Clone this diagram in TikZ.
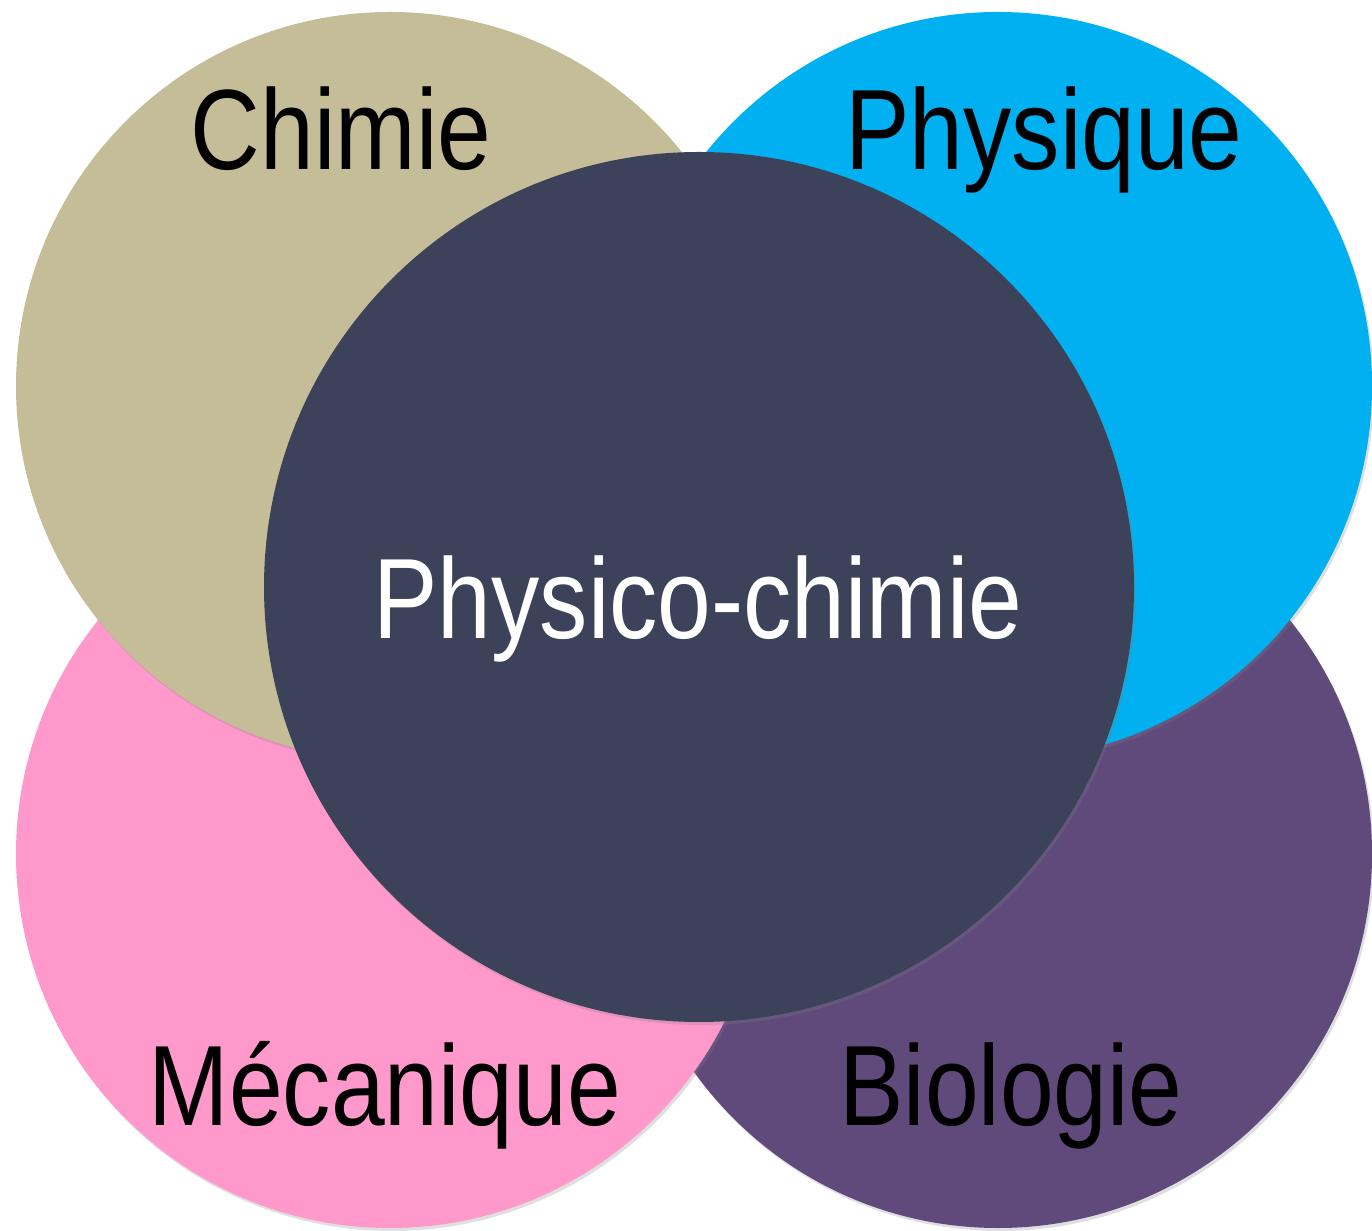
\documentclass[tikz,border=0pt]{standalone}
\usepackage{fontspec}
\setmainfont{Liberation Sans}[FakeStretch=0.845]
\usepackage{tikz}
\usetikzlibrary{shadows}
\usepackage{xcolor}
\definecolor{ctan}{HTML}{C4BD97}
\definecolor{ccyan}{HTML}{00B0F0}
\definecolor{cpink}{HTML}{FF99CC}
\definecolor{cpurple}{HTML}{604A7B}
\definecolor{cnavy}{HTML}{3B4259}

\begin{document}
\begin{tikzpicture}[x=1cm, y=1cm,
   disc/.style={circle, inner sep=0pt, minimum size=7.48cm,
      drop shadow={opacity=0.25, shadow xshift=0.02cm, shadow yshift=-0.03cm}},
   word/.style={anchor=base, font=\fontsize{32.5}{36}\selectfont}]
\useasboundingbox (0,0) rectangle (13.72,12.30);
% outer discs (bottom ones first)
\node[disc, fill=cpurple] (biologie) at (9.98,3.76) {};
\node[disc, fill=cpink]   (mecanique) at (3.90,3.76) {};
\node[disc, fill=ccyan]   (physique) at (9.98,8.44) {};
\node[disc, fill=ctan]    (chimie) at (3.90,8.44) {};
% central disc
\node[disc, fill=cnavy, minimum size=8.70cm] (centre) at (6.99,6.43) {};
% labels
\node[word] (tchimie) at (3.41,10.60) {Chimie};
\node[word] (tphysique) at (10.44,10.60) {Physique};
\node[word, text=white] (tcentre) at (6.98,5.91) {Physico-chimie};
\node[word] (tmecanique) at (3.85,1.05) {Mécanique};
\node[word] (tbiologie) at (10.11,1.05) {Biologie};
\end{tikzpicture}
\end{document}
